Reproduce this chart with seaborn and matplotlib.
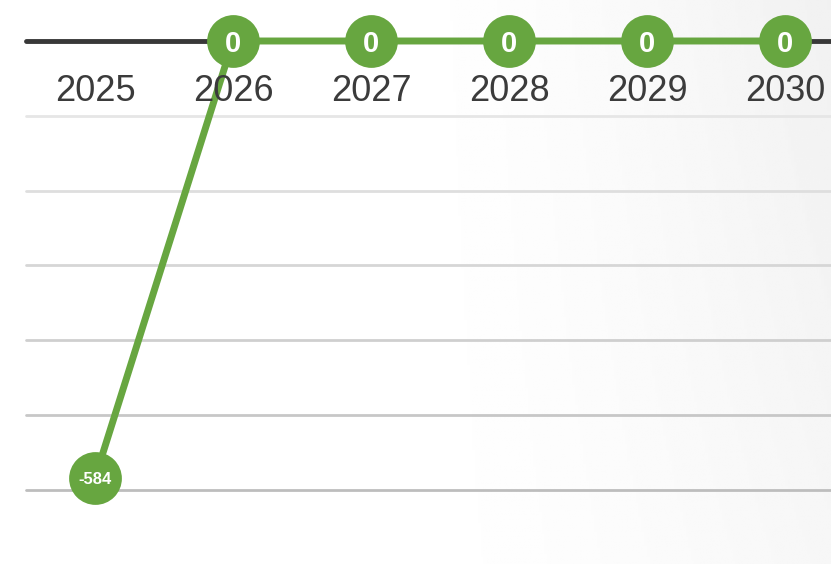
import numpy as np
import pandas as pd
import matplotlib
matplotlib.use('Agg')
import matplotlib.pyplot as plt
import seaborn as sns

years = [2025, 2026, 2027, 2028, 2029, 2030]
values = [-584, 0, 0, 0, 0, 0]
grid_values = [-100, -200, -300, -400, -500, -600]
grid_colors = ['#e6e6e6', '#dedede', '#d6d6d6', '#cfcfcf', '#c7c7c7', '#bdbdbd']

green = '#67a640'
df = pd.DataFrame({'year': years, 'value': values})

sns.set_theme(style='white')
plt.rcParams['font.family'] = ['Liberation Sans', 'DejaVu Sans']

fig = plt.figure(figsize=(8.31, 5.64), dpi=100)

# soft grey gradient in the background
bg = fig.add_axes([0, 0, 1, 1], zorder=0)
gx = np.linspace(0, 1, 300)
gy = np.linspace(0, 1, 200)
X, Y = np.meshgrid(gx, gy)
shade = 1 - 0.055 * np.clip((X - 0.45) / 0.55, 0, 1) ** 1.5 * (0.6 + 0.4 * Y)
bg.imshow(shade, cmap='gray', vmin=0, vmax=1, aspect='auto', extent=[0, 1, 0, 1], origin='lower')
bg.axis('off')

ax = fig.add_axes([0, 0, 1, 1], zorder=1)
ax.patch.set_alpha(0)

x0 = 26 / 831
for gv, gc in zip(grid_values, grid_colors):
    ax.axhline(gv, xmin=x0, xmax=1, color=gc, linewidth=2, zorder=1)
ax.axhline(0, xmin=x0, xmax=1, color='#383838', linewidth=3.5, zorder=2)

sns.lineplot(data=df, x='year', y='value', ax=ax, color=green, linewidth=5,
             marker='o', markersize=38, markeredgewidth=0, zorder=3)

for yr, v in zip(years, values):
    fs = 21 if v == 0 else 12
    ax.annotate(str(v), (yr, v), ha='center', va='center_baseline', color='white',
                fontsize=fs, fontweight='bold', zorder=5)
    ax.annotate(str(yr), (yr, 0), xytext=(0, -36.5), textcoords='offset points',
                ha='center', va='center', color='#3b3b3b', fontsize=26, zorder=4)

ax.set_xlim(2025 - 95 / 138, 2025 + 736 / 138)
ax.set_ylim(-(564 - 41) / 0.7483, 41 / 0.7483)
ax.axis('off')

fig.savefig('out.png', dpi=100)
